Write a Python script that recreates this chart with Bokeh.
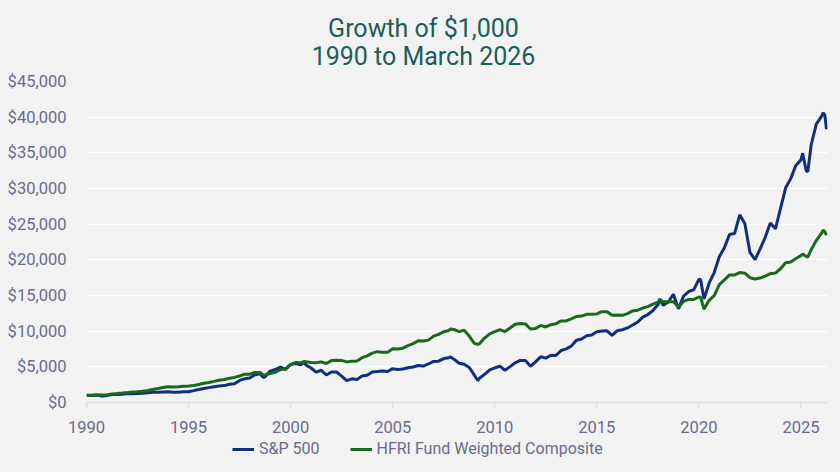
from bokeh.plotting import figure
from bokeh.layouts import column
from bokeh.models import (Range1d, NumeralTickFormatter, Legend, LegendItem, Label,
                          FixedTicker, ColumnDataSource)
from bokeh.embed import file_html
from bokeh.resources import INLINE

# ---- data (growth of $1,000, end-of-period values) ----
dates = [
    "1989-12",
    "1990-03", "1990-06", "1990-09", "1990-12",
    "1991-03", "1991-06", "1991-09", "1991-12",
    "1992-03", "1992-06", "1992-09", "1992-12",
    "1993-03", "1993-06", "1993-09", "1993-12",
    "1994-03", "1994-06", "1994-09", "1994-12",
    "1995-03", "1995-06", "1995-09", "1995-12",
    "1996-03", "1996-06", "1996-09", "1996-12",
    "1997-03", "1997-06", "1997-09", "1997-12",
    "1998-03", "1998-06", "1998-08", "1998-09", "1998-12",
    "1999-03", "1999-06", "1999-09", "1999-12",
    "2000-03", "2000-06", "2000-08", "2000-09", "2000-12",
    "2001-03", "2001-06", "2001-09", "2001-12",
    "2002-03", "2002-06", "2002-09", "2002-12",
    "2003-03", "2003-06", "2003-09", "2003-12",
    "2004-03", "2004-06", "2004-09", "2004-12",
    "2005-03", "2005-06", "2005-09", "2005-12",
    "2006-03", "2006-06", "2006-09", "2006-12",
    "2007-03", "2007-06", "2007-09", "2007-10", "2007-12",
    "2008-03", "2008-06", "2008-09", "2008-12",
    "2009-02", "2009-03", "2009-06", "2009-09", "2009-12",
    "2010-03", "2010-06", "2010-09", "2010-12",
    "2011-03", "2011-06", "2011-09", "2011-12",
    "2012-03", "2012-06", "2012-09", "2012-12",
    "2013-03", "2013-06", "2013-09", "2013-12",
    "2014-03", "2014-06", "2014-09", "2014-12",
    "2015-03", "2015-06", "2015-09", "2015-12",
    "2016-03", "2016-06", "2016-09", "2016-12",
    "2017-03", "2017-06", "2017-09", "2017-12",
    "2018-01", "2018-03", "2018-06", "2018-09", "2018-12",
    "2019-03", "2019-06", "2019-09", "2019-12",
    "2020-01", "2020-03", "2020-06", "2020-09", "2020-12",
    "2021-03", "2021-06", "2021-09", "2021-12",
    "2022-03", "2022-06", "2022-09", "2022-12",
    "2023-03", "2023-06", "2023-09", "2023-12",
    "2024-03", "2024-06", "2024-09", "2024-12",
    "2025-01", "2025-03", "2025-04", "2025-06", "2025-09", "2025-12",
    "2026-01", "2026-02", "2026-03",
]

sp500 = [
    1000,
    970, 1031, 890, 969,
    1109, 1107, 1166, 1264,
    1232, 1256, 1296, 1360,
    1420, 1427, 1464, 1497,
    1440, 1446, 1517, 1517,
    1664, 1822, 1968, 2087,
    2200, 2299, 2370, 2566,
    2635, 3096, 3328, 3422,
    3898, 4027, 3500, 3628, 4400,
    4620, 4943, 4637, 5326,
    5449, 5301, 5650, 5248, 4841,
    4265, 4517, 3853, 4266,
    4279, 3706, 3065, 3323,
    3217, 3712, 3809, 4276,
    4349, 4423, 4339, 4741,
    4641, 4706, 4875, 4974,
    5183, 5110, 5401, 5760,
    5795, 6160, 6283, 6380, 6076,
    5505, 5356, 4906, 3828,
    3080, 3407, 3949, 4565, 4841,
    5102, 4520, 5031, 5570,
    5899, 5905, 5084, 5688,
    6405, 6226, 6624, 6598,
    7297, 7509, 7900, 8735,
    8892, 9354, 9457, 9931,
    10020, 10050, 9407, 10068,
    10199, 10454, 10862, 11272,
    11960, 12330, 12885, 13733,
    14519, 13623, 14087, 15172, 13131,
    14917, 15558, 15823, 17265,
    17246, 14500, 16727, 18216, 20442,
    21709, 23554, 23696, 26310,
    25100, 21059, 20027, 21545,
    23161, 25176, 24345, 27208,
    30092, 31386, 33238, 34015,
    34970, 32552, 32330, 36100, 39024, 40078,
    40600, 40350, 38300,
]

hfri = [
    1000,
    1025, 1076, 1039, 1058,
    1206, 1254, 1323, 1399,
    1483, 1513, 1588, 1696,
    1832, 1960, 2097, 2219,
    2186, 2197, 2263, 2310,
    2391, 2534, 2686, 2807,
    2961, 3124, 3218, 3399,
    3518, 3712, 3971, 3970,
    4208, 4208, 3850, 3872, 4074,
    4237, 4618, 4711, 5349,
    5616, 5560, 5750, 5699, 5615,
    5559, 5698, 5470, 5874,
    5933, 5903, 5696, 5789,
    5818, 6283, 6535, 6920,
    7128, 7056, 7056, 7545,
    7507, 7620, 7963, 8247,
    8659, 8616, 8745, 9310,
    9543, 9925, 10103, 10300, 10237,
    9930, 10128, 9318, 8289,
    8140, 8250, 9035, 9622, 9946,
    10195, 9940, 10437, 10965,
    11075, 11019, 10303, 10389,
    10805, 10589, 10907, 11050,
    11437, 11437, 11723, 12058,
    12118, 12360, 12360, 12418,
    12728, 12728, 12219, 12279,
    12218, 12462, 12836, 12947,
    13245, 13444, 13780, 14059,
    14450, 14129, 14129, 14129, 13391,
    14168, 14451, 14451, 14789,
    14760, 13088, 14331, 14976, 16538,
    17200, 17888, 17888, 18218,
    18127, 17493, 17318, 17444,
    17706, 18060, 18150, 18752,
    19596, 19694, 20186, 20590,
    20800, 20487, 20400, 21400, 22700, 23700,
    24150, 23950, 23450,
]

series_names = ["S&P 500", "HFRI Fund Weighted Composite"]
x_ticks = [1990, 1995, 2000, 2005, 2010, 2015, 2020, 2025]
y_ticks = [0, 5000, 10000, 15000, 20000, 25000, 30000, 35000, 40000, 45000]
title_lines = ["Growth of $1,000", "1990 to March 2026"]

# decimal year (end of month)
xs = [int(d[:4]) + int(d[5:7]) / 12 for d in dates]
src = ColumnDataSource(dict(x=xs, sp=sp500, hf=hfri))

BG = "#f2f2f2"
TXT = "#6b6b8c"
TITLE_C = "#1b5e5a"
SP_C = "#112f7c"
HF_C = "#186a1e"
FONT = "Roboto"


def strip(height):
    f = figure(width=840, height=height, output_backend="svg", toolbar_location=None,
               x_range=Range1d(0, 1), y_range=Range1d(0, 1),
               x_axis_type=None, y_axis_type=None,
               background_fill_color=BG, border_fill_color=BG,
               min_border=0, min_border_left=0, min_border_right=0,
               min_border_top=0, min_border_bottom=0)
    f.outline_line_color = None
    f.grid.visible = False
    return f


# ---------------- title strip ----------------
tt = strip(71)
for txt, ypos in zip(title_lines, [43, 15]):
    tt.add_layout(Label(x=337, y=ypos, x_units="screen", y_units="screen", text=txt,
                        text_align="center", text_baseline="middle",
                        text_font=FONT, text_font_size="25px", text_color=TITLE_C))

# ---------------- main chart ----------------
p = figure(frame_width=741, frame_height=321, output_backend="svg", toolbar_location=None,
           x_range=Range1d(1990, 2026.3), y_range=Range1d(0, 45000),
           background_fill_color=BG, border_fill_color=BG,
           min_border_left=86, min_border_right=13,
           min_border_top=10, min_border_bottom=38)
p.outline_line_color = None

p.line("x", "sp", source=src, line_color=SP_C, line_width=3)
p.line("x", "hf", source=src, line_color=HF_C, line_width=3)

p.xaxis.ticker = FixedTicker(ticks=x_ticks)
p.xaxis.axis_line_color = "#dcdce4"
p.xaxis.axis_line_width = 1.5
p.xaxis.major_tick_line_color = "#dcdce4"
p.xaxis.major_tick_line_width = 1.5
p.xaxis.major_tick_out = 6
p.xaxis.major_tick_in = 0
p.xaxis.minor_tick_line_color = None
p.xaxis.major_label_text_font = FONT
p.xaxis.major_label_text_font_size = "16.5px"
p.xaxis.major_label_text_color = TXT
p.xaxis.major_label_standoff = 12

p.yaxis.ticker = FixedTicker(ticks=y_ticks)
p.yaxis.formatter = NumeralTickFormatter(format="$0,0")
p.yaxis.axis_line_color = None
p.yaxis.major_tick_line_color = None
p.yaxis.minor_tick_line_color = None
p.yaxis.major_label_text_font = FONT
p.yaxis.major_label_text_font_size = "16.5px"
p.yaxis.major_label_text_color = TXT
p.yaxis.major_label_standoff = 14

p.xgrid.visible = False
p.ygrid.grid_line_color = "white"
p.ygrid.grid_line_width = 1.5

# ---------------- legend strip ----------------
lg = strip(32)
# legend proxies: same series styles, drawn outside the visible range
l_sp = lg.line(x=[-5, -4], y=[-5, -4], line_color=SP_C, line_width=3)
l_hf = lg.line(x=[-5, -4], y=[-5, -4], line_color=HF_C, line_width=3)

legend = Legend(items=[LegendItem(label=series_names[0], renderers=[l_sp]),
                       LegendItem(label=series_names[1], renderers=[l_hf])],
                orientation="horizontal", location=(146, 14),
                background_fill_alpha=0, border_line_color=None,
                label_text_font=FONT, label_text_font_size="16px",
                label_text_color=TXT, glyph_width=22, glyph_height=16,
                label_height=16, spacing=30, padding=2, margin=0)
lg.add_layout(legend, "center")

layout = column(tt, p, lg, spacing=0, styles={"background-color": BG})

open("out.html", "w").write(file_html(layout, INLINE))
